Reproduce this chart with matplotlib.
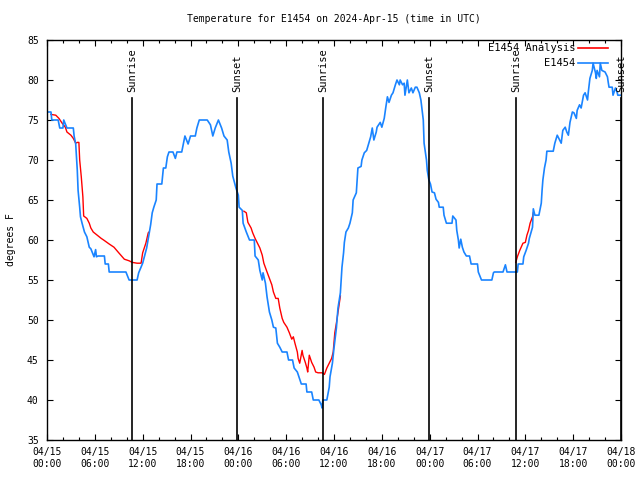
#!/usr/bin/env python3
"""
Temperature for E1454, observed vs analysis, with sunrise/sunset markers.
"""

from datetime import datetime, timedelta

import numpy as np
import matplotlib
matplotlib.use("Agg")
import matplotlib.pyplot as plt
import matplotlib.dates as mdates

# Observed temperature (hours since 2024-04-15 00:00 UTC, degrees F)
obs_hours = [
    0.0, 0.5, 0.6, 1.4, 1.6, 2.0, 2.1, 2.5, 3.3, 3.4, 3.6, 3.8, 3.9, 4.1, 4.2, 4.4,
    4.7, 5.0, 5.3, 5.5, 5.9, 6.1, 6.2, 6.4, 7.2, 7.3, 7.7, 7.8, 9.9, 10.1, 10.3, 11.3,
    11.5, 12.0, 12.5, 13.0, 13.2, 13.4, 13.7, 13.8, 14.4, 14.6, 14.9, 15.1, 15.3, 15.8,
    16.1, 16.3, 16.9, 17.1, 17.3, 17.7, 18.0, 18.6, 18.8, 19.1, 20.1, 20.5, 20.8, 21.1,
    21.5, 21.9, 22.2, 22.6, 22.8, 23.1, 23.3, 23.7, 24.0, 24.1, 24.5, 24.6, 25.0, 25.4,
    26.0, 26.1, 26.5, 26.7, 27.0, 27.1, 27.4, 27.6, 27.9, 28.2, 28.4, 28.7, 28.9, 29.2,
    29.5, 30.1, 30.3, 30.8, 31.0, 31.4, 31.6, 31.9, 32.5, 32.6, 33.2, 33.4, 34.1, 34.4,
    34.5, 34.6, 35.1, 35.4, 35.5, 35.8, 36.0, 36.3, 36.5, 36.8, 36.9, 37.0, 37.2, 37.3,
    37.5, 37.8, 38.0, 38.3, 38.4, 38.8, 38.9, 39.0, 39.4, 39.5, 39.8, 40.1, 40.3, 40.6,
    40.8, 41.0, 41.3, 41.4, 41.8, 42.0, 42.3, 42.5, 42.7, 42.9, 43.2, 43.4, 43.7, 43.9,
    44.2, 44.3, 44.6, 44.8, 44.9, 45.2, 45.4, 45.7, 45.9, 46.2, 46.4, 46.7, 46.9, 47.2,
    47.3, 47.6, 47.7, 47.9, 48.1, 48.3, 48.6, 48.8, 49.1, 49.2, 49.7, 49.8, 50.1, 50.8,
    50.9, 51.3, 51.4, 51.6, 51.7, 51.9, 52.1, 52.3, 52.6, 53.0, 53.2, 54.0, 54.1, 54.5,
    55.8, 56.0, 56.1, 57.2, 57.5, 57.7, 59.0, 59.1, 59.7, 59.8, 60.1, 60.4, 60.5, 60.9,
    61.0, 61.2, 61.7, 62.0, 62.1, 62.2, 62.4, 62.6, 62.7, 63.5, 63.7, 64.0, 64.2, 64.5,
    64.7, 65.0, 65.2, 65.4, 65.6, 65.9, 66.1, 66.4, 66.5, 66.8, 67.0, 67.3, 67.5, 67.8,
    67.9, 68.1, 68.4, 68.5, 68.8, 68.9, 69.0, 69.3, 69.4, 69.6, 70.0, 70.3, 70.4, 70.5,
    70.9, 71.0, 71.3, 71.5, 71.6, 72.0,
]
obs_temps = [
    76, 76, 75, 75, 74, 74, 75, 74, 74, 73, 72, 68.7, 66.2, 64.1, 62.9, 62.1,
    61, 60.4, 59.1, 58.9, 57.9, 58.8, 57.9, 58, 58, 57, 57, 56, 56, 55.5, 55, 55,
    55.9, 57.1, 59, 61.9, 63.4, 64.1, 65, 67, 67, 69, 69, 70.4, 71, 71,
    70.2, 71, 71, 72, 73, 72, 73, 73, 74, 75, 75, 74.4, 73, 74,
    75, 74, 73, 72.5, 71, 69.6, 68, 66.5, 65.6, 64.1, 63.7, 62.1, 61, 60,
    60, 58, 57.5, 56.2, 55, 55.9, 54.6, 52.9, 51, 50, 49.1, 49, 47.1, 46.6,
    46, 46, 45, 45, 44, 43.5, 42.9, 42, 42, 41, 41, 40, 40, 39.4,
    39, 40, 40, 41.6, 42.9, 44.6, 46.5, 49, 51.5, 53.4, 55, 56.6, 58.4, 59.7,
    61, 61.5, 62.1, 63.4, 65, 65.9, 67.5, 69, 69.2, 70, 70.9, 71.2, 71.9, 72.9,
    74, 72.5, 73.5, 74.1, 74.7, 74.1, 75.2, 76.6, 77.9, 77.2, 78.1, 78.4, 79.4, 80,
    79.4, 80, 79.4, 79.6, 78.1, 80, 78.4, 79, 78.4, 79.1, 79.1, 78.4, 77.5, 75,
    72.1, 70, 68.7, 67.5, 67, 66, 65.9, 65.1, 64.7, 64.1, 64.1, 63.1, 62.1, 62.1,
    63, 62.5, 61.2, 60, 59, 60.1, 59.1, 58.5, 58, 58, 57, 57, 56, 55,
    55, 55.9, 56, 56, 56.9, 56, 56, 57, 57, 57.9, 58.7, 59.6, 60.2, 61.6,
    63.9, 63.1, 63.1, 64.6, 66.2, 67.5, 69, 70, 71.1, 71.1, 72.1, 73.1, 72.7, 72.1,
    73.7, 74.1, 73.5, 73.1, 74.7, 76, 75.9, 75.2, 76.2, 76.9, 76.5, 78.1, 78.4, 77.5,
    78.5, 80.2, 81.2, 82.1, 80.9, 80.2, 81.2, 80.4, 82.1, 81.2, 81, 80.4, 79.7, 79.1,
    79.1, 78.1, 79, 78.5, 78.1, 78.1,
]

# Analysis temperature, NaN marks the gaps between runs
ana_hours = [
    0.5, 1.1, 1.5, 1.9, 2.3, 2.5, 3.0, 3.3, 3.6, 3.8, 4.0, 4.1, 4.3, 4.5, 4.6, 5.0,
    5.3, 5.5, 5.8, 6.3, 6.8, 7.1, 7.8, 8.4, 9.0, 9.7, 10.3, 10.7, 11.3, 11.8, 12.0, 12.4,
    12.7, 12.8, 18.0,
    24.7, 25.0, 25.2, 25.6, 25.8, 26.1, 26.4, 26.7, 27.0, 27.2, 27.6, 27.9, 28.2, 28.4,
    28.7, 29.0, 29.2, 29.5, 29.7, 30.1, 30.4, 30.7, 30.9, 31.1, 31.4, 31.5, 31.7, 32.0,
    32.1, 32.4, 32.6, 32.7, 32.9, 33.2, 33.5, 33.7, 34.0, 34.5, 34.8, 35.1, 35.4, 35.7,
    35.9, 36.1, 36.3, 36.8, 48.0,
    58.8, 59.0, 59.3, 59.7, 60.0, 60.2, 60.4, 60.6, 60.9, 61.0,
]
ana_temps = [
    75.7, 75.6, 75.2, 74.6, 74.1, 73.5, 73.1, 72.7, 72.1, 72.2, 72.2, 70, 67.9, 65.4, 63, 62.7,
    62.1, 61.5, 61, 60.6, 60.2, 60, 59.5, 59.1, 58.4, 57.6, 57.4, 57.2, 57.1, 57.1, 58.4, 59.6,
    60.9, 61, np.nan,
    63.6, 63.4, 62.2, 61.5, 60.9, 60.2, 59.6, 59, 58.1, 57.1, 56, 55.2, 54.4, 53.5,
    52.7, 52.7, 51.5, 50.2, 49.7, 49.1, 48.4, 47.6, 47.9, 47.1, 46, 45.2, 44.6, 46.2,
    45.6, 44.7, 44, 43.5, 45.6, 44.7, 44.1, 43.5, 43.4, 43.4, 43.2, 44, 44.6, 45.2,
    46, 48.4, 49.6, 53, np.nan,
    57.2, 57.9, 58.7, 59.6, 59.7, 60.6, 61.2, 62.1, 62.9, 63.4,
]

# Sunrise / sunset (hours since start)
event_hours = [10.65, 23.85, 34.6, 47.9, 58.85, 71.97]
event_labels = ["Sunrise", "Sunset", "Sunrise", "Sunset", "Sunrise", "Sunset"]

start = datetime(2024, 4, 15)
to_time = lambda hs: [start + timedelta(hours=h) for h in hs]

plt.rcParams["font.family"] = ["DejaVu Sans Mono"]
plt.rcParams["font.size"] = 7

fig = plt.figure(figsize=(6.4, 4.8), dpi=100)
ax = fig.add_axes([47 / 640, 40 / 480, 574 / 640, 400 / 480])

red = "#ff0000"
blue = "#1a84ff"

ax.plot(to_time(ana_hours), ana_temps, color=red, lw=1.0)
ax.plot(to_time(obs_hours), obs_temps, color=blue, lw=1.2)

# sunrise / sunset markers
for h, lab in zip(event_hours, event_labels):
    t = start + timedelta(hours=h)
    ax.plot([t, t], [35, 77.75], color="black", lw=1.2)
    ax.text(t, 78.5, lab, rotation=90, ha="center", va="bottom", fontsize=7.5)

ax.set_xlim(start, start + timedelta(hours=72))
ax.set_ylim(35, 85)
ax.set_yticks(np.arange(35, 86, 5))

ax.xaxis.set_major_locator(mdates.HourLocator(byhour=[0, 6, 12, 18]))
ax.xaxis.set_minor_locator(mdates.HourLocator(interval=2))
ax.xaxis.set_major_formatter(mdates.DateFormatter("%m/%d\n%H:%M"))

ax.tick_params(which="both", direction="in", top=True, right=True, width=0.8)
ax.tick_params(which="major", length=4, pad=6, labelsize=7)
ax.tick_params(which="minor", length=2.5)
ax.tick_params(axis="x", which="major", pad=5)
for s in ax.spines.values():
    s.set_linewidth(1.0)

ax.set_ylabel("degrees F", fontsize=7, labelpad=8)
ax.set_title("Temperature for E1454 on 2024-Apr-15 (time in UTC)", fontsize=7, pad=13)

# legend, gnuplot style (text right-aligned, sample to the right)
for yy, lab, col in [(0.98, "E1454 Analysis", red), (0.9425, "E1454", blue)]:
    ax.text(0.92, yy, lab, transform=ax.transAxes, ha="right", va="center", fontsize=7.5)
    ax.plot([0.925, 0.977], [yy, yy], transform=ax.transAxes, color=col, lw=1.2)

plt.savefig("out.png", dpi=100)
